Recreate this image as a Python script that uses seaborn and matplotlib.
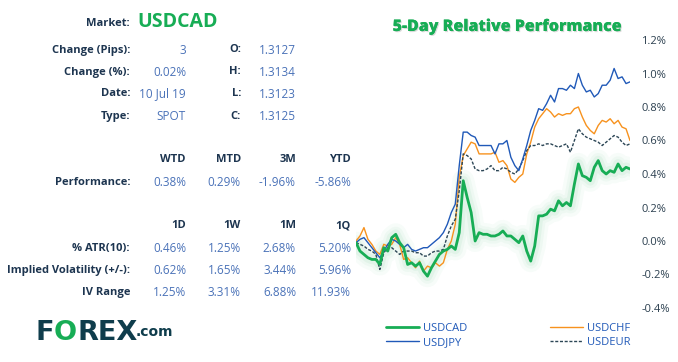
import numpy as np
import pandas as pd
import matplotlib
matplotlib.use("Agg")
import matplotlib.pyplot as plt
import matplotlib.patheffects as pe
import seaborn as sns

# -----------------------------------------------------------------------------
# Datos (rendimiento relativo a 5 días, en %)
# -----------------------------------------------------------------------------
usdcad = [-0.01, -0.06, -0.08, -0.10, -0.11, -0.11, -0.14, -0.04, -0.06, 0.02,
          0.04, -0.01, -0.04, -0.14, -0.13, -0.15, -0.13, -0.18, -0.21, -0.16,
          -0.12, -0.08, -0.06, -0.05, -0.03, -0.05, 0.05, 0.36, 0.26, 0.17,
          -0.00, 0.05, 0.04, 0.04, 0.03, 0.03, 0.04, 0.06, 0.03, 0.03,
          0.01, -0.01, 0.03, -0.06, -0.12, -0.03, 0.15, 0.15, 0.16, 0.19,
          0.18, 0.24, 0.21, 0.23, 0.21, 0.34, 0.46, 0.39, 0.38, 0.36,
          0.44, 0.48, 0.42, 0.40, 0.42, 0.41, 0.46, 0.42, 0.44, 0.43]
usdjpy = [-0.01, 0.01, 0.02, -0.01, -0.04, -0.07, -0.10, -0.06, -0.02, 0.01,
          0.00, -0.02, -0.04, -0.02, -0.05, -0.06, -0.05, -0.04, -0.04, -0.02,
          0.00, 0.02, 0.05, 0.10, 0.17, 0.22, 0.45, 0.65, 0.65, 0.63,
          0.62, 0.57, 0.57, 0.57, 0.57, 0.52, 0.58, 0.58, 0.60, 0.50,
          0.45, 0.42, 0.49, 0.57, 0.66, 0.72, 0.79, 0.78, 0.82, 0.87,
          0.83, 0.91, 0.91, 0.90, 0.93, 0.91, 1.00, 0.93, 0.89, 0.90,
          0.86, 0.88, 0.93, 0.93, 0.96, 1.03, 0.97, 0.98, 0.94, 0.95]
usdchf = [0.00, 0.03, 0.08, 0.01, -0.02, -0.06, -0.08, -0.02, -0.03, -0.02,
          0.02, -0.02, -0.11, -0.10, -0.13, -0.16, -0.12, -0.18, -0.15, -0.16,
          -0.13, -0.15, -0.13, -0.05, 0.00, 0.10, 0.38, 0.51, 0.55, 0.59,
          0.58, 0.52, 0.52, 0.52, 0.52, 0.53, 0.47, 0.48, 0.45, 0.37,
          0.35, 0.38, 0.40, 0.52, 0.59, 0.68, 0.73, 0.76, 0.79, 0.77,
          0.74, 0.76, 0.75, 0.76, 0.76, 0.79, 0.80, 0.74, 0.69, 0.66,
          0.64, 0.69, 0.72, 0.71, 0.73, 0.70, 0.72, 0.68, 0.67, 0.60]
usdeur = [-0.01, -0.02, -0.03, -0.05, -0.06, -0.08, -0.17, -0.07, -0.04, -0.04,
          -0.06, -0.08, -0.06, -0.06, -0.06, -0.07, -0.07, -0.09, -0.09, -0.07,
          -0.06, -0.06, -0.05, 0.03, 0.09, 0.13, 0.30, 0.52, 0.51, 0.49,
          0.43, 0.42, 0.42, 0.43, 0.45, 0.42, 0.42, 0.44, 0.43, 0.41,
          0.40, 0.43, 0.48, 0.54, 0.57, 0.57, 0.58, 0.57, 0.58, 0.58,
          0.57, 0.56, 0.57, 0.58, 0.53, 0.60, 0.67, 0.64, 0.62, 0.61,
          0.60, 0.59, 0.57, 0.59, 0.61, 0.63, 0.62, 0.59, 0.57, 0.58]

y_ticks = [-0.4, -0.2, 0.0, 0.2, 0.4, 0.6, 0.8, 1.0, 1.2]

# Tabla de la izquierda
info_labels = ["Change (Pips):", "Change (%):", "Date:", "Type:"]
info_values = ["3", "0.02%", "10 Jul 19", "SPOT"]
ohlc_labels = ["O:", "H:", "L:", "C:"]
ohlc_values = ["1.3127", "1.3134", "1.3123", "1.3125"]

perf_headers = ["WTD", "MTD", "3M", "YTD"]
perf_values = ["0.38%", "0.29%", "-1.96%", "-5.86%"]

vol_headers = ["1D", "1W", "1M", "1Q"]
vol_rows = ["% ATR(10):", "Implied Volatility (+/-):", "IV Range"]
vol_values = [["0.46%", "1.25%", "2.68%", "5.20%"],
              ["0.62%", "1.65%", "3.44%", "5.96%"],
              ["1.25%", "3.31%", "6.88%", "11.93%"]]

# -----------------------------------------------------------------------------
# Estilo
# -----------------------------------------------------------------------------
sns.set_theme(style="white")
plt.rcParams["font.family"] = ["Open Sans", "DejaVu Sans"]

GREEN = "#17ad55"
BLUE = "#2059b8"
ORANGE = "#f7921e"
DARK = "#2c4656"
LABEL = "#1d3550"
VALUE = "#4a72b8"
FS_LAB = 8.0
FS_VAL = 8.5

W, H = 678, 362
fig = plt.figure(figsize=(W / 100, H / 100), dpi=100)
fig.patch.set_facecolor("white")

df = pd.DataFrame({"t": np.arange(len(usdcad)), "USDCAD": usdcad,
                   "USDJPY": usdjpy, "USDCHF": usdchf, "USDEUR": usdeur})

# ----- Gráfico de líneas -----
ax = fig.add_axes([356 / W, 1 - 308 / H, 274 / W, 268 / H])

# brillo verde debajo de USDCAD
for lw, a in [(16, 0.03), (11, 0.04), (7, 0.06)]:
    sns.lineplot(data=df, x="t", y="USDCAD", ax=ax, color=GREEN, lw=lw,
                 alpha=a, solid_capstyle="round")

sns.lineplot(data=df, x="t", y="USDCHF", ax=ax, color=ORANGE, lw=1.0, label="USDCHF")
sns.lineplot(data=df, x="t", y="USDEUR", ax=ax, color=DARK, lw=1.0,
             linestyle=(0, (2.2, 1.2)), label="USDEUR")
sns.lineplot(data=df, x="t", y="USDJPY", ax=ax, color=BLUE, lw=1.0, label="USDJPY")
sns.lineplot(data=df, x="t", y="USDCAD", ax=ax, color=GREEN, lw=2.0, label="USDCAD")

ax.set_xlim(0, len(usdcad) - 1)
ax.set_ylim(-0.4, 1.2)
ax.set_yticks(y_ticks)
ax.set_yticklabels([f"{v:.1f}%" for v in y_ticks])
ax.yaxis.tick_right()
ax.tick_params(axis="y", length=0, pad=8, labelsize=8, labelcolor="#2b3f4f")
ax.set_xticks([])
ax.set_xlabel("")
ax.set_ylabel("")
for s in ax.spines.values():
    s.set_visible(False)
ax.patch.set_alpha(0)

# leyenda
handles, labels = ax.get_legend_handles_labels()
order = [labels.index(n) for n in ["USDCAD", "USDJPY", "USDCHF", "USDEUR"]]
if ax.get_legend() is not None:
    ax.get_legend().remove()
fig.legend([handles[i] for i in order], [labels[i] for i in order],
           ncol=2, frameon=False, fontsize=8, labelcolor=BLUE,
           handlelength=3.0, handletextpad=0.35, columnspacing=7.4,
           labelspacing=0.25, loc="upper left",
           bbox_to_anchor=(376 / W, 1 - 313 / H))

# título
fig.text(507 / W, 1 - 27 / H, "5-Day Relative Performance", color=GREEN,
         fontsize=11.5, fontweight=800, ha="center", va="center",
         path_effects=[pe.withSimplePatchShadow(offset=(0.8, -0.8), alpha=0.25,
                                                shadow_rgbFace="#6a6a6a"),
                       pe.Normal()])

# ----- Tabla de texto -----
def txt(x, y, s, **kw):
    fig.text(x / W, 1 - y / H, s, va="center", **kw)

txt(130, 24, "Market:", ha="right", fontsize=FS_LAB, fontweight="bold", color=LABEL)
txt(137, 22, "USDCAD", ha="left", fontsize=14, fontweight="bold", color=GREEN)

rows_y = [50, 72, 94, 116]
for y, lab, val, ol, ov in zip(rows_y, info_labels, info_values, ohlc_labels, ohlc_values):
    txt(130, y, lab, ha="right", fontsize=FS_LAB, fontweight="bold", color=LABEL)
    txt(186, y, val, ha="right", fontsize=FS_VAL, color=VALUE)
    txt(241, y, ol, ha="right", fontsize=FS_LAB, fontweight="bold", color=LABEL)
    txt(296, y, ov, ha="right", fontsize=FS_VAL, color=VALUE)

cols_x = [186, 241, 296, 351]
for x, h in zip(cols_x, perf_headers):
    txt(x, 160, h, ha="right", fontsize=FS_LAB, fontweight="bold", color=LABEL)
txt(130, 182, "Performance:", ha="right", fontsize=FS_LAB, fontweight="bold", color=LABEL)
for x, v in zip(cols_x, perf_values):
    txt(x, 182, v, ha="right", fontsize=FS_VAL, color=VALUE)

for x, h in zip(cols_x, vol_headers):
    txt(x, 226, h, ha="right", fontsize=FS_LAB, fontweight="bold", color=LABEL)
for y, lab, vals in zip([248, 270, 292], vol_rows, vol_values):
    txt(130, y, lab, ha="right", fontsize=FS_LAB, fontweight="bold", color=LABEL)
    for x, v in zip(cols_x, vals):
        txt(x, y, v, ha="right", fontsize=FS_VAL, color=VALUE)

# ----- Logo FOREX.com -----
LOGO = "#0f3d4c"
fig.text(36 / W, 1 - 333 / H, "F", fontsize=19.5, fontweight="bold", color=LOGO,
         va="center", ha="left", family="DejaVu Sans")
fig.text(54 / W, 1 - 333 / H, "O", fontsize=19.5, fontweight="bold", color=GREEN,
         va="center", ha="left", family="DejaVu Sans")
fig.text(77 / W, 1 - 333 / H, "REX", fontsize=19.5, fontweight="bold", color=LOGO,
         va="center", ha="left", family="DejaVu Sans")
fig.text(136 / W, 1 - 332 / H, ".com", fontsize=10, fontweight="bold", color=LOGO,
         va="center", ha="left", family="DejaVu Sans")

plt.savefig("out.png", dpi=100, facecolor="white")
plt.close()
